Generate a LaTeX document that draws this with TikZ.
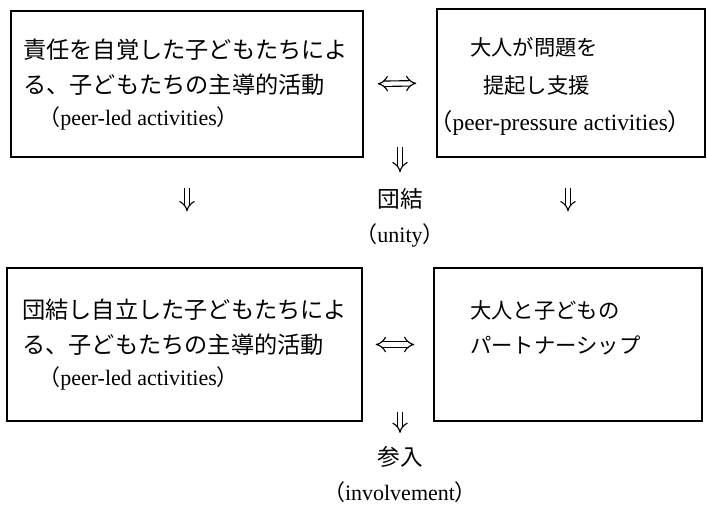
\documentclass[tikz,border=0pt]{standalone}
\usepackage{fontspec}
\setmainfont{Liberation Serif}
\newfontfamily\cjk{Noto Sans CJK JP}
\usetikzlibrary{arrows.meta,calc,fit}
\begin{document}
\begin{tikzpicture}[x=0.75pt,y=-0.75pt,
  box/.style={draw, line width=1pt, inner sep=0pt},
  jl/.style={anchor=west, inner sep=0pt, font=\cjk\fontsize{17.4}{20}\selectfont},
  jr/.style={anchor=west, inner sep=0pt, font=\cjk\fontsize{16}{20}\selectfont},
  en/.style={anchor=west, inner sep=0pt, font=\fontsize{16.5}{20}\selectfont},
  jc/.style={inner sep=0pt, font=\cjk\fontsize{17}{20}\selectfont},
  ec/.style={inner sep=0pt, font=\fontsize{16.5}{20}\selectfont},
  dbl/.style={double, double distance=3.2pt, line width=0.85pt, -{Implies[scale=1.4]}},
  dbl2/.style={double, double distance=3.2pt, line width=0.85pt, {Implies[scale=1.4]}-{Implies[scale=1.4]}}
]
\useasboundingbox (0,0) rectangle (707,512);
% boxes
\node[box, fit={(11,11) (363,157)}] (TL) {};
\node[box, fit={(437,9) (705,157)}] (TR) {};
\node[box, fit={(7,268) (362,421)}] (BL) {};
\node[box, fit={(434,268) (702,421)}] (BR) {};
% top-left text
\node[jl] (tl1) at (23,50) {責任を自覚した子どもたちによ};
\node[jl] (tl2) at (23,85) {る、子どもたちの主導的活動};
\node[en] (tl3) at (38,118) {{\cjk （}peer-led activities{\cjk ）}};
% top-right text
\node[jr] (tr1) at (470,47) {大人が問題を};
\node[jr] (tr2) at (483,85) {提起し支援};
\node[en, font=\fontsize{17.5}{20}\selectfont] (tr3) at (429,123) {{\cjk （}peer-pressure activities{\cjk ）}};
% bottom-left text
\node[jl] (bl1) at (22,310) {団結し自立した子どもたちによ};
\node[jl] (bl2) at (22,345) {る、子どもたちの主導的活動};
\node[en] (bl3) at (38,378) {{\cjk （}peer-led activities{\cjk ）}};
% bottom-right text
\node[jr] (br1) at (470,310) {大人と子どもの};
\node[jr] (br2) at (470,345) {パートナーシップ};
% middle labels
\node[jc] (dan) at (400,199) {団結};
\node[ec] (unity) at (400,235) {{\cjk （}unity{\cjk ）}};
\node[jc] (san) at (400,457) {参入};
\node[ec] (inv) at (400,492) {{\cjk （}involvement{\cjk ）}};
\coordinate (m1) at (400,147);
\coordinate (m2) at (400,412);
% connectors
\draw[dbl2, shorten <=10.5pt, shorten >=15pt] (TL.east) -- (TR.west);
\draw[dbl2, shorten <=9.75pt, shorten >=14.25pt] (BL.east) -- (BR.west);
\draw[dbl, shorten <=23pt, shorten >=42pt] (TL.south) -- (TL.south |- BL.north);
\draw[dbl, shorten <=23pt, shorten >=42pt] (BR.north |- TR.south) -- (BR.north);
\draw[dbl, shorten >=12pt] (m1) -- (dan.north);
\draw[dbl, shorten >=10pt] (m2) -- (san.north);
\end{tikzpicture}
\end{document}
